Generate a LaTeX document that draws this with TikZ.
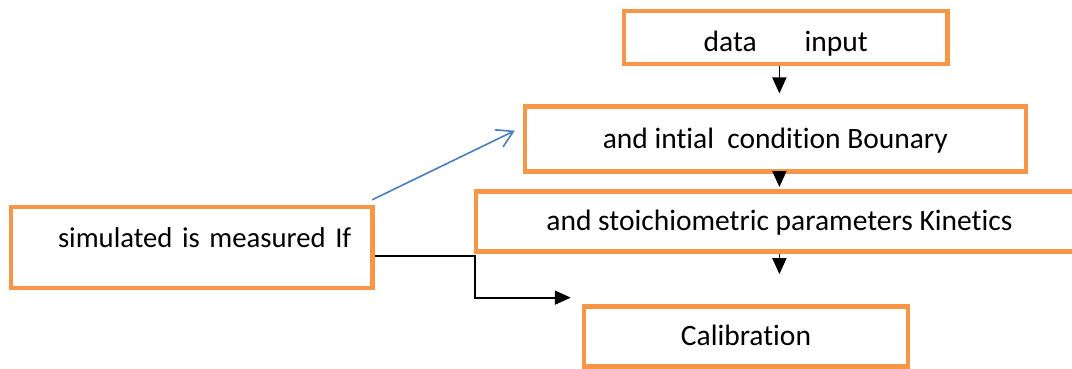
\documentclass[tikz,border=0pt]{standalone}
\usepackage{fontspec}
\setmainfont[Ligatures={NoCommon}]{Carlito}
\usepackage{tikz}
\usetikzlibrary{arrows.meta, calc}
\definecolor{myorange}{RGB}{247,150,70}
\definecolor{myblue}{RGB}{74,126,187}
\tikzset{
  block/.style={rectangle, draw=myorange, line width=4.5pt, inner sep=0pt,
    text height=18pt, text depth=0pt,
    font=\fontsize{29.5}{34}\selectfont},
  arrow/.style={-{Triangle[length=16pt, width=14pt]}, line width=1.8pt, color=black},
  bluearrow/.style={-{Straight Barb[length=16pt, width=19pt]}, line width=1.6pt, color=myblue}
}

\begin{document}
\begin{tikzpicture}[x=1pt, y=-1pt]
  \useasboundingbox (0,0) rectangle (1072,369);
  \clip (0,0) rectangle (1072,369);

  % Main column of steps
  \node[block, minimum width=323.5, minimum height=53, text height=29pt] (data) at (785.8,37.5) {data\hspace{48pt}input};
  \node[block, minimum width=500.8, minimum height=64.6] (bound) at (775.4,139) {and intial\ \ condition Bounary};
  \node[block, minimum width=607, minimum height=60.4] (kin) at (779.4,221.5) {and stoichiometric parameters Kinetics};
  \node[block, minimum width=324, minimum height=60] (calib) at (746,336.4) {Calibration};

  % Side check
  \node[block, minimum width=361.6, minimum height=81, text depth=19pt,
    text width=319pt, align=right, font=\fontsize{28.7}{34}\selectfont] (ifbox) at (191.8,247.5) {\mbox{simulated is measured If}};

  % Flow down the column
  \draw[arrow, shorten >=11] (data.south -| kin) -- (bound.north -| kin);
  \draw[arrow, shorten >=2] (bound.south -| kin) -- (kin.north);
  \draw[arrow, shorten >=30] (kin.south) -- (calib.north -| kin);

  % Links from the side box
  \draw[bluearrow] ($(ifbox.north east)+(-2.6,-5)$) -- ($(bound.west)+(-8,-8.3)$);
  \draw[arrow] ($(ifbox.east)+(0,8.2)$) -- ++(100.4,0) |- ($(calib.north west)+(-11,-6.5)$);
\end{tikzpicture}
\end{document}
